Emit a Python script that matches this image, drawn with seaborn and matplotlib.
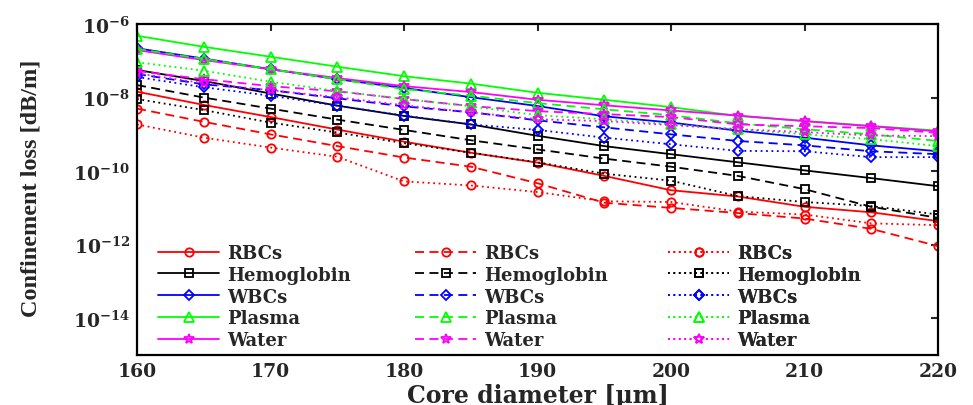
import numpy as np
import pandas as pd
import matplotlib
matplotlib.use("Agg")
import matplotlib.pyplot as plt
import seaborn as sns
from matplotlib.ticker import FixedLocator, FuncFormatter, NullLocator

# Core diameter sweep (um)
core_diameter = [160, 165, 170, 175, 180, 185, 190, 195, 200, 205, 210, 215, 220]

# log10 of confinement loss (dB/m); suffix _a = solid, _b = dashed, _c = dotted
rbcs_a = [-7.84, -8.20, -8.53, -8.87, -9.20, -9.50, -9.77, -10.13, -10.52, -10.69, -10.97, -11.12, -11.36]
rbcs_b = [-8.30, -8.66, -9.00, -9.32, -9.63, -9.88, -10.33, -10.86, -11.00, -11.14, -11.29, -11.57, -12.04]
rbcs_c = [-8.73, -9.09, -9.36, -9.61, -10.28, -10.39, -10.57, -10.82, -10.84, -11.10, -11.18, -11.42, -11.47]

hemo_a = [-7.25, -7.55, -7.89, -8.22, -8.50, -8.73, -9.04, -9.32, -9.54, -9.76, -9.98, -10.19, -10.41]
hemo_b = [-7.66, -8.00, -8.30, -8.60, -8.88, -9.16, -9.41, -9.66, -9.88, -10.13, -10.49, -10.97, -11.27]
hemo_c = [-8.04, -8.34, -8.68, -8.95, -9.24, -9.50, -9.76, -10.07, -10.26, -10.68, -10.84, -10.95, -11.18]

wbcs_a = [-6.66, -6.94, -7.23, -7.50, -7.74, -7.99, -8.23, -8.51, -8.68, -8.90, -9.09, -9.30, -9.46]
wbcs_b = [-7.36, -7.64, -7.80, -8.02, -8.24, -8.40, -8.62, -8.81, -9.00, -9.18, -9.30, -9.46, -9.54]
wbcs_c = [-7.44, -7.72, -7.95, -8.22, -8.49, -8.73, -8.88, -9.09, -9.27, -9.45, -9.46, -9.62, -9.62]

plasma_a = [-6.32, -6.62, -6.89, -7.16, -7.42, -7.62, -7.87, -8.06, -8.26, -8.50, -8.64, -8.77, -8.90]
plasma_b = [-6.68, -6.95, -7.23, -7.50, -7.77, -7.95, -8.15, -8.32, -8.48, -8.70, -8.86, -9.00, -9.18]
plasma_c = [-7.04, -7.27, -7.57, -7.82, -8.04, -8.24, -8.48, -8.59, -8.73, -8.86, -9.00, -9.13, -9.32]

water_a = [-6.71, -6.98, -7.23, -7.47, -7.69, -7.85, -8.06, -8.21, -8.35, -8.49, -8.64, -8.78, -8.92]
water_b = [-7.28, -7.50, -7.69, -7.83, -8.04, -8.23, -8.37, -8.45, -8.53, -8.73, -8.78, -8.83, -8.96]
water_c = [-7.34, -7.61, -7.80, -7.99, -8.21, -8.40, -8.59, -8.64, -8.75, -8.86, -8.94, -9.03, -9.05]

materials = ["RBCs", "Hemoglobin", "WBCs", "Plasma", "Water"]
series = {
    "RBCs": [rbcs_a, rbcs_b, rbcs_c],
    "Hemoglobin": [hemo_a, hemo_b, hemo_c],
    "WBCs": [wbcs_a, wbcs_b, wbcs_c],
    "Plasma": [plasma_a, plasma_b, plasma_c],
    "Water": [water_a, water_b, water_c],
}
colors = {"RBCs": "#ff0000", "Hemoglobin": "#000000", "WBCs": "#0000ff",
          "Plasma": "#00ff00", "Water": "#ff00ff"}
markers = {"RBCs": "o", "Hemoglobin": "s", "WBCs": "D", "Plasma": "^", "Water": "*"}
marker_sizes = {"RBCs": 6, "Hemoglobin": 6, "WBCs": 5, "Plasma": 6.5, "Water": 7.5}
line_styles = ["-", (0, (5, 3)), (0, (1, 2))]
style_names = ["solid", "dashed", "dotted"]

rows = []
for m in materials:
    for s, vals in zip(style_names, series[m]):
        for d, v in zip(core_diameter, vals):
            rows.append({"diameter": d, "loss": 10.0 ** v, "material": m, "style": s})
df = pd.DataFrame(rows)

sns.set_style("white")
plt.rcParams.update({
    "font.family": ["DejaVu Serif"],
    "font.weight": "bold",
    "mathtext.fontset": "dejavuserif",
    "axes.linewidth": 1.6,
    "axes.edgecolor": "black",
})

fig = plt.figure(figsize=(9.73, 4.06), dpi=100)
ax = fig.add_axes([137 / 973, 1 - 356 / 406, (938 - 137) / 973, (356 - 25) / 406])

handles = {s: [] for s in style_names}
for s, ls in zip(style_names, line_styles):
    for m in materials:
        sub = df[(df.material == m) & (df["style"] == s)]
        sns.lineplot(data=sub, x="diameter", y="loss", ax=ax, color=colors[m],
                     linestyle=ls, linewidth=1.3, marker=markers[m],
                     markersize=marker_sizes[m], markerfacecolor="none",
                     markeredgecolor=colors[m], markeredgewidth=1.3,
                     errorbar=None, legend=False, label=m)
        handles[s].append(ax.lines[-1])

ax.set_yscale("log")
ax.set_xlim(160, 220)
ax.set_ylim(1e-15, 1e-6)
ax.xaxis.set_major_locator(FixedLocator([160, 170, 180, 190, 200, 210, 220]))
ax.yaxis.set_major_locator(FixedLocator([1e-14, 1e-12, 1e-10, 1e-8, 1e-6]))
ax.yaxis.set_minor_locator(NullLocator())
ax.yaxis.set_major_formatter(FuncFormatter(
    lambda v, _: r"$\mathbf{10^{%d}}$" % int(round(np.log10(v)))))
ax.tick_params(direction="in", length=5, width=1.5, top=True, right=True,
               labelsize=13.5, pad=5)
for lab in ax.get_xticklabels():
    lab.set_fontweight("bold")

ax.set_xlabel("Core diameter [\u03bcm]", fontsize=17, fontweight="bold", labelpad=2)
ax.set_ylabel("Confinement loss [dB/m]", fontsize=17.5, fontweight="bold",
              family=["Liberation Serif", "DejaVu Serif"])
ax.yaxis.set_label_coords(-0.119, 0.505)

# Three legend columns, one per line style
legend_x = [158 / 973, 415 / 973, 668 / 973]
for x0, s in zip(legend_x, style_names):
    leg = ax.legend(handles[s], materials, loc="upper left",
                    bbox_to_anchor=(x0, 1 - 245 / 406), bbox_transform=fig.transFigure,
                    frameon=False, fontsize=13, handlelength=3.4, handletextpad=0.45,
                    labelspacing=0.21, borderpad=0, borderaxespad=0)
    ax.add_artist(leg)

fig.savefig("out.png", dpi=100)
